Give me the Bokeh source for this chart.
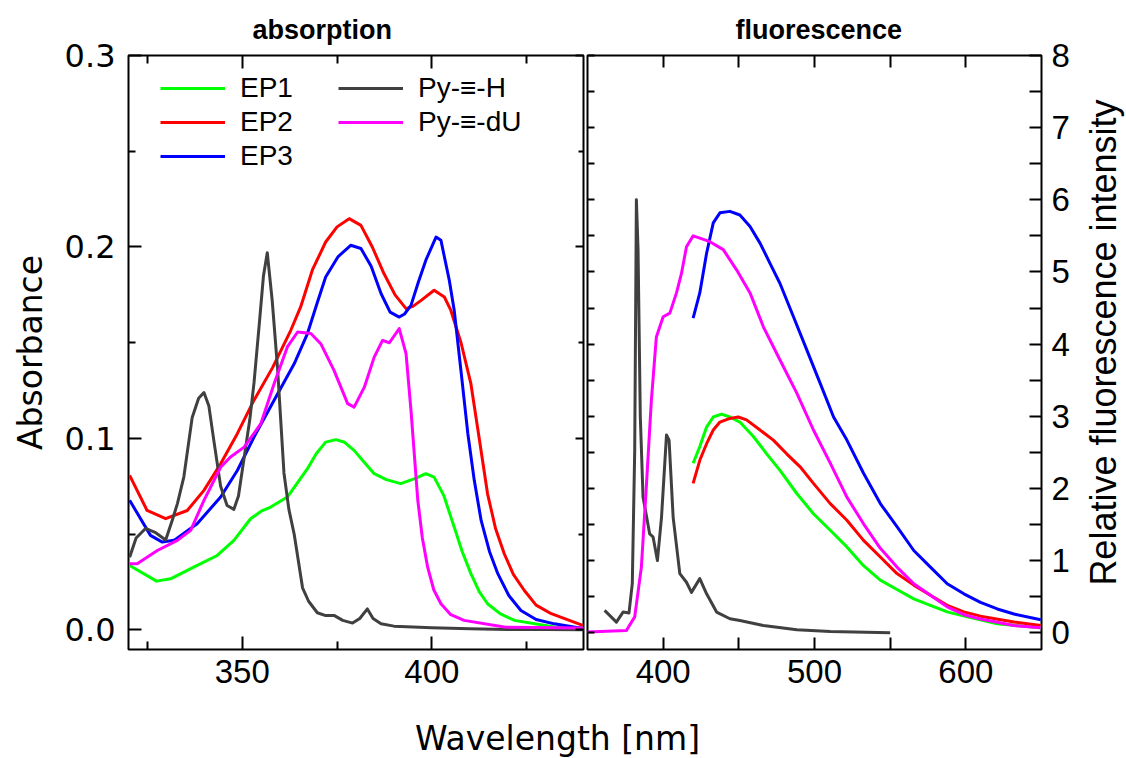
import math
from bokeh.plotting import figure
from bokeh.models import (FixedTicker, PrintfTickFormatter, Label, Legend, Range1d,
                          LinearAxis, CustomJSTickFormatter, Title)
from bokeh.layouts import row, column
from bokeh.embed import file_html
from bokeh.resources import INLINE

# ---------------- absorption data ----------------
ep1_abs_nm = [320.3, 327.4, 331.1, 337.2, 343.4, 347.8, 352.2, 355.0, 357.5, 361.9, 367.2, 369.5,
              372.0, 374.7, 377.0, 379.5, 382.0, 384.8, 388.0, 391.8, 395.5, 398.4, 400.6, 403.2,
              405.9, 408.0, 410.3, 412.5, 414.7, 418.0, 421.8, 432.3, 440.0]
ep1_abs = [0.0337, 0.0255, 0.0267, 0.0328, 0.0389, 0.0468, 0.0581, 0.062, 0.0642, 0.0694, 0.0842, 0.092,
           0.0981, 0.0994, 0.098, 0.0938, 0.088, 0.0816, 0.0785, 0.0764, 0.079, 0.0816, 0.0798, 0.070,
           0.0537, 0.041, 0.0294, 0.020, 0.0137, 0.0085, 0.005, 0.0015, 0.001]

ep2_abs_nm = [320.3, 324.9, 329.8, 335.5, 339.9, 344.3, 348.7, 353.1, 358.0, 362.8, 365.4, 368.5,
              372.0, 375.0, 378.2, 381.3, 384.3, 387.4, 390.3, 393.2, 395.0, 397.1, 400.6, 403.3,
              405.0, 407.7, 410.3, 412.5, 414.7, 416.8, 419.1, 421.5, 424.4, 427.5, 431.5, 439.8]
ep2_abs = [0.0807, 0.0624, 0.0581, 0.0624, 0.0729, 0.0868, 0.1025, 0.120, 0.137, 0.1565, 0.1687, 0.188,
           0.2026, 0.2105, 0.2148, 0.2113, 0.200, 0.186, 0.175, 0.1678, 0.169, 0.172, 0.1774, 0.1739,
           0.167, 0.150, 0.1286, 0.100, 0.0711, 0.053, 0.0398, 0.029, 0.0206, 0.013, 0.0085, 0.0024]

ep3_abs_nm = [320.3, 325.8, 328.9, 332.0, 338.1, 344.3, 348.7, 353.1, 358.4, 363.7, 367.2, 369.8,
              372.0, 375.3, 378.6, 381.3, 384.0, 386.6, 389.0, 391.4, 392.8, 394.5, 396.5, 398.4,
              401.1, 402.4, 404.6, 405.9, 407.7, 409.5, 411.2, 413.0, 415.2, 417.4, 420.3, 423.5,
              427.5, 432.3, 439.8]
ep3_abs = [0.0677, 0.0494, 0.0459, 0.0468, 0.0555, 0.0694, 0.0833, 0.1007, 0.120, 0.139, 0.1548, 0.171,
           0.1843, 0.195, 0.2009, 0.1992, 0.190, 0.1757, 0.166, 0.1634, 0.165, 0.1695, 0.182, 0.193,
           0.2052, 0.2035, 0.1826, 0.167, 0.135, 0.1025, 0.078, 0.0572, 0.041, 0.0294, 0.018, 0.0102,
           0.0055, 0.0032, 0.0008]

pyh_abs_nm = [320.3, 322.0, 324.5, 327.0, 329.8, 331.5, 332.9, 334.6, 336.8, 338.5, 339.9, 341.2,
              342.5, 344.3, 346.0, 347.8, 349.0, 350.5, 352.0, 353.1, 354.5, 355.6, 356.6, 357.9,
              359.3, 361.0, 362.3, 363.7, 365.9, 367.5, 369.8, 372.0, 374.2, 376.5, 379.1, 381.0,
              383.0, 384.5, 386.6, 390.0, 400.0, 410.0, 420.0, 430.0, 440.0]
pyh_abs = [0.038, 0.048, 0.053, 0.051, 0.047, 0.057, 0.066, 0.080, 0.111, 0.121, 0.124, 0.117,
           0.099, 0.075, 0.065, 0.063, 0.070, 0.090, 0.110, 0.129, 0.160, 0.185, 0.197, 0.172,
           0.137, 0.082, 0.063, 0.050, 0.022, 0.015, 0.009, 0.0075, 0.0076, 0.005, 0.0036, 0.006,
           0.011, 0.006, 0.0032, 0.002, 0.0012, 0.0006, 0.0003, 0.0002, 0.0001]

pydu_abs_nm = [320.3, 322.3, 327.6, 332.9, 336.4, 339.9, 344.3, 346.9, 350.5, 354.9, 358.4, 361.9,
               364.6, 368.1, 370.7, 374.2, 377.8, 379.5, 382.2, 384.8, 387.0, 388.8, 391.4, 393.2,
               394.5, 396.3, 397.5, 398.9, 400.5, 402.4, 405.0, 408.5, 419.1, 440.0]
pydu_abs = [0.0346, 0.0346, 0.0415, 0.0468, 0.052, 0.0677, 0.085, 0.0903, 0.0955, 0.1077, 0.1286, 0.1478,
            0.1556, 0.1548, 0.1495, 0.1356, 0.1182, 0.1164, 0.1268, 0.1425, 0.1512, 0.150, 0.1574, 0.1443,
            0.1147, 0.0677, 0.048, 0.0328, 0.021, 0.0137, 0.008, 0.005, 0.0015, 0.001]

# ---------------- fluorescence data ----------------
ep1_fl_nm = [419.8, 424.2, 428.7, 433.1, 438.6, 444.1, 450.7, 459.6, 468.4, 477.2, 488.3, 499.3,
             510.4, 521.4, 532.4, 543.5, 554.5, 565.6, 576.6, 587.7, 601.0, 620.8, 649.5]
ep1_fl = [2.35, 2.58, 2.85, 2.99, 3.03, 2.99, 2.92, 2.72, 2.48, 2.25, 1.93, 1.65,
          1.42, 1.19, 0.93, 0.73, 0.60, 0.47, 0.38, 0.29, 0.22, 0.125, 0.07]

ep2_fl_nm = [419.8, 424.2, 428.7, 433.1, 437.5, 444.1, 449.6, 455.1, 464.0, 472.8, 481.6, 490.5,
             499.3, 510.4, 521.4, 532.4, 543.5, 554.5, 565.6, 576.6, 587.7, 598.7, 609.7, 631.8, 649.5]
ep2_fl = [2.07, 2.39, 2.62, 2.81, 2.92, 2.97, 2.99, 2.95, 2.81, 2.67, 2.48, 2.30,
          2.07, 1.79, 1.56, 1.28, 1.05, 0.82, 0.66, 0.52, 0.38, 0.29, 0.23, 0.15, 0.10]

ep3_fl_nm = [419.8, 424.2, 428.7, 433.1, 437.5, 444.1, 450.7, 457.4, 464.0, 470.6, 477.2, 486.1,
             494.9, 503.7, 512.6, 521.4, 532.4, 543.5, 554.5, 565.6, 576.6, 587.7, 598.7, 609.7,
             620.8, 631.8, 649.5]
ep3_fl = [4.36, 4.71, 5.26, 5.68, 5.82, 5.84, 5.79, 5.63, 5.40, 5.12, 4.84, 4.38,
          3.92, 3.46, 2.99, 2.67, 2.21, 1.79, 1.47, 1.14, 0.91, 0.68, 0.54, 0.42,
          0.33, 0.26, 0.18]

pyh_fl_nm = [361.3, 369.1, 373.5, 377.4, 379.6, 381.2, 382.3, 383.4, 384.9, 386.7, 391.1, 393.3,
             396.2, 398.9, 402.2, 403.9, 406.6, 411.0, 415.4, 418.7, 424.2, 428.7, 435.3, 444.1,
             450.7, 466.2, 488.3, 510.4, 550.0]
pyh_fl = [0.31, 0.148, 0.287, 0.273, 0.68, 2.53, 6.0, 5.31, 2.99, 1.88, 1.37, 1.33,
          1.0, 1.6, 2.74, 2.67, 1.6, 0.82, 0.70, 0.56, 0.75, 0.54, 0.287, 0.194,
          0.17, 0.10, 0.042, 0.0185, 0.0]

pydu_fl_nm = [349.7, 375.7, 381.2, 385.6, 389.0, 392.2, 395.5, 400.0, 404.4, 408.8, 412.1, 415.4,
              419.8, 424.2, 430.9, 439.7, 448.5, 457.4, 466.2, 477.2, 488.3, 499.3, 510.4, 521.4,
              532.4, 543.5, 554.5, 565.6, 576.6, 587.7, 598.7, 609.7, 631.8, 649.5]
pydu_fl = [0.01, 0.03, 0.22, 0.91, 2.07, 3.22, 4.10, 4.38, 4.43, 4.71, 4.98, 5.35,
           5.50, 5.47, 5.42, 5.31, 5.03, 4.71, 4.24, 3.78, 3.32, 2.81, 2.35, 1.88,
           1.51, 1.17, 0.91, 0.68, 0.52, 0.36, 0.25, 0.19, 0.10, 0.07]

series_names = ["EP1", "EP2", "EP3", "Py-\u2261-H", "Py-\u2261-dU"]
series_colors = ["#00ff00", "#ff0000", "#0000ff", "#404040", "#ff00ff"]

abs_x_ticks = [350, 400]
abs_x_minor = [325, 375, 425]
abs_y_ticks = [0.0, 0.1, 0.2, 0.3]
abs_y_minor = [0.05, 0.15, 0.25]
fl_x_ticks = [400, 500, 600]
fl_x_minor = [450, 550]
fl_y_ticks = [0, 1, 2, 3, 4, 5, 6, 7, 8]
fl_y_minor = [0.5, 1.5, 2.5, 3.5, 4.5, 5.5, 6.5, 7.5]

SANS = "Liberation Sans"
DEJAVU = "DejaVu Sans"
LW = 3
BOT_H = 43
ROW_H = 758 - BOT_H


def style_ticks(ax, major, minor):
    ax.axis_line_color = None
    ax.major_tick_in = major
    ax.major_tick_out = 0
    ax.minor_tick_in = minor
    ax.minor_tick_out = 0
    ax.major_tick_line_width = 2
    ax.minor_tick_line_width = 2
    ax.major_tick_line_color = "black"
    ax.minor_tick_line_color = "black"


def mirror_axis(fig, side, ticks, minor, major_len, minor_len):
    ax = LinearAxis(ticker=FixedTicker(ticks=ticks, minor_ticks=minor),
                    formatter=CustomJSTickFormatter(code="return ''"))
    style_ticks(ax, major_len, minor_len)
    ax.major_label_standoff = 0
    ax.major_label_text_font_size = "1px"
    fig.add_layout(ax, side)


def panel_title(text, offset):
    return Title(text=text, align="left", offset=offset, standoff=22,
                 text_font=SANS, text_font_style="bold", text_font_size="27px",
                 text_color="black")


# ---------------- absorption panel ----------------
p1 = figure(width=585, height=ROW_H, output_backend="svg", toolbar_location=None,
            x_range=Range1d(320, 440), y_range=Range1d(-0.0102, 0.3),
            min_border_left=128, min_border_right=2, min_border_top=55, min_border_bottom=66)
p1.grid.visible = False
p1.outline_line_color = "black"
p1.outline_line_width = 2
p1.border_fill_color = "white"

abs_series = [(ep1_abs_nm, ep1_abs), (ep2_abs_nm, ep2_abs), (ep3_abs_nm, ep3_abs),
              (pyh_abs_nm, pyh_abs), (pydu_abs_nm, pydu_abs)]
renderers = []
for (xs, ys), c in zip(abs_series, series_colors):
    r = p1.line(xs, ys, line_color=c, line_width=LW, line_join="round")
    renderers.append(r)

xa = p1.xaxis[0]
xa.ticker = FixedTicker(ticks=abs_x_ticks, minor_ticks=abs_x_minor)
ya = p1.yaxis[0]
ya.ticker = FixedTicker(ticks=abs_y_ticks, minor_ticks=abs_y_minor)
ya.formatter = PrintfTickFormatter(format="%.1f")
style_ticks(xa, 13, 8)
style_ticks(ya, 13, 7)
xa.major_label_text_font = SANS
xa.major_label_text_font_size = "33px"
xa.major_label_text_color = "black"
xa.major_label_standoff = 10
ya.major_label_text_font = DEJAVU
ya.major_label_text_font_size = "32px"
ya.major_label_text_color = "black"
ya.major_label_standoff = 13
ya.axis_label = "Absorbance"
ya.axis_label_text_font = DEJAVU
ya.axis_label_text_font_size = "33px"
ya.axis_label_text_font_style = "normal"
ya.axis_label_text_color = "black"
ya.axis_label_standoff = 12
mirror_axis(p1, "above", abs_x_ticks, abs_x_minor, 13, 8)
mirror_axis(p1, "right", abs_y_ticks, abs_y_minor, 8, 5)
p1.add_layout(panel_title("absorption", 124), "above")

legend = Legend(items=[(n, [r]) for n, r in zip(series_names, renderers)],
                location=(32, 477), nrows=3, orientation="vertical",
                glyph_width=65, glyph_height=20, label_standoff=15, label_width=96,
                spacing=2, padding=0, margin=0,
                label_text_font=SANS, label_text_font_size="28px", label_text_color="black",
                border_line_color=None, background_fill_alpha=0)
p1.add_layout(legend, "center")

# ---------------- fluorescence panel ----------------
p2 = figure(width=496, height=ROW_H, output_backend="svg", toolbar_location=None,
            x_range=Range1d(350, 650), y_range=Range1d(-0.232, 8.0), y_axis_location="right",
            min_border_left=2, min_border_right=40, min_border_top=55, min_border_bottom=66)
p2.grid.visible = False
p2.outline_line_color = "black"
p2.outline_line_width = 2
p2.border_fill_color = "white"

fl_series = [(ep1_fl_nm, ep1_fl), (ep2_fl_nm, ep2_fl), (ep3_fl_nm, ep3_fl),
             (pyh_fl_nm, pyh_fl), (pydu_fl_nm, pydu_fl)]
for (xs, ys), c in zip(fl_series, series_colors):
    p2.line(xs, ys, line_color=c, line_width=LW, line_join="round")

xb = p2.xaxis[0]
xb.ticker = FixedTicker(ticks=fl_x_ticks, minor_ticks=fl_x_minor)
yb = p2.yaxis[0]
yb.ticker = FixedTicker(ticks=fl_y_ticks, minor_ticks=fl_y_minor)
for ax in (xb, yb):
    style_ticks(ax, 12, 12)
    ax.major_label_text_font = SANS
    ax.major_label_text_font_size = "33px"
    ax.major_label_text_color = "black"
xb.major_label_standoff = 10
yb.major_label_standoff = 10
mirror_axis(p2, "above", fl_x_ticks, fl_x_minor, 12, 12)
mirror_axis(p2, "left", fl_y_ticks, fl_y_minor, 7, 7)
p2.add_layout(panel_title("fluorescence", 148), "above")

# ---------------- right axis title strip ----------------
p4 = figure(width=1126 - 585 - 496, height=ROW_H, output_backend="svg", toolbar_location=None,
            min_border=0, x_range=Range1d(0, 1), y_range=Range1d(0, 1),
            x_axis_type=None, y_axis_type=None)
p4.grid.visible = False
p4.outline_line_color = None
p4.add_layout(Label(x=22, y=307, x_units="screen", y_units="screen",
                    text="Relative fluorescence intensity", angle=math.pi / 2,
                    text_align="center", text_baseline="middle", text_font=SANS,
                    text_font_size="36px", text_color="black"))

# ---------------- shared x label ----------------
p3 = figure(width=1126, height=BOT_H, output_backend="svg", toolbar_location=None,
            min_border=0, x_range=Range1d(0, 1), y_range=Range1d(0, 1),
            x_axis_type=None, y_axis_type=None)
p3.grid.visible = False
p3.outline_line_color = None
p3.add_layout(Label(x=557, y=20, x_units="screen", y_units="screen", text="Wavelength [nm]",
                    text_align="center", text_baseline="alphabetic", text_font=DEJAVU,
                    text_font_size="33px", text_color="black"))

layout = column(row(p1, p2, p4, spacing=0), p3, spacing=0)

with open("out.html", "w") as f:
    f.write(file_html(layout, INLINE))
